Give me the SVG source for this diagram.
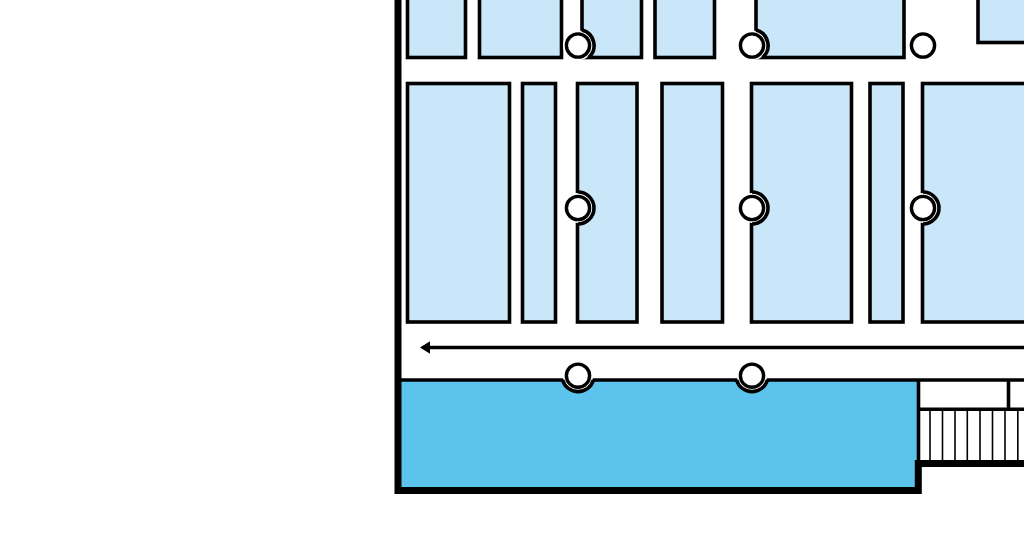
<svg xmlns="http://www.w3.org/2000/svg" width="1024" height="556" viewBox="0 0 1024 556">
<style>
.room{fill:#c9e7f8;stroke:#000;stroke-width:3.6}
.wall{fill:none;stroke:#000;stroke-linecap:butt}
.thick{stroke-width:7}
.mid{stroke-width:3.6}
.thin{stroke-width:1.6}
.disc{fill:#fff}
.col{fill:#fff;stroke:#000;stroke-width:3.4}
</style>
<defs>
<marker id="head" markerUnits="userSpaceOnUse" markerWidth="12" markerHeight="14" refX="1" refY="7" orient="auto"><path d="M11 7L1 .8V13.2Z" fill="#000"/></marker>
</defs>
<rect width="1024" height="556" fill="#fff"/>
<g id="rooms-top">
<rect class="room" x="407.5" y="-10" width="58" height="67.5"/>
<rect class="room" x="479.5" y="-10" width="82" height="67.5"/>
<rect class="room" x="582" y="-10" width="59.5" height="67.5"/>
<rect class="room" x="655" y="-10" width="59.5" height="67.5"/>
<rect class="room" x="756" y="-10" width="148" height="67.5"/>
<rect class="room" x="978" y="-10" width="60" height="52.5"/>
</g>
<g id="rooms-middle">
<rect class="room" x="407.5" y="83.5" width="102" height="238.5"/>
<rect class="room" x="522.5" y="83.5" width="33" height="238.5"/>
<rect class="room" x="577.5" y="83.5" width="59.5" height="238.5"/>
<rect class="room" x="662" y="83.5" width="60.5" height="238.5"/>
<rect class="room" x="751.5" y="83.5" width="100" height="238.5"/>
<rect class="room" x="870" y="83.5" width="33" height="238.5"/>
<rect class="room" x="922.5" y="83.5" width="110" height="238.5"/>
</g>
<g id="pool">
<path d="M401 381H917V460H915V487.5H401Z" fill="#5cc3ed"/>
</g>
<g id="walls">
<path class="wall thick" d="M398 0V490.5H918.3V463.5H1024"/>
<path class="wall mid" d="M400 380H1024M918.5 380V460M1008.5 380V409M918.5 409.3H1024"/>
<path class="wall thin" d="M930 410V460M942.5 410V460M955 410V460M967.3 410V460M980 410V460M992.5 410V460M1005 410V460M1017.8 410V460"/>
</g>
<g id="connectors">
<path class="wall mid" d="M1024 347.5H430" marker-end="url(#head)"/>
</g>
<g id="door-arcs">
<circle class="disc" cx="578" cy="45.5" r="15"/>
<circle class="disc" cx="752" cy="45.5" r="15"/>
<circle class="disc" cx="578" cy="208" r="15"/>
<circle class="disc" cx="752" cy="208" r="15"/>
<circle class="disc" cx="923" cy="208" r="15"/>
<circle class="disc" cx="578" cy="375.7" r="15"/>
<circle class="disc" cx="752" cy="375.7" r="15"/>
<path class="wall mid" d="M582 30A16 16 0 0 1 588.6 57.5M756 30A16 16 0 0 1 762.6 57.5"/>
<path class="wall mid" d="M578 192A16 16 0 0 1 578 224M752 192A16 16 0 0 1 752 224M923 192A16 16 0 0 1 923 224"/>
<path class="wall mid" d="M562.6 380A16 16 0 0 0 593.4 380M736.6 380A16 16 0 0 0 767.4 380"/>
</g>
<g id="columns">
<circle class="col" cx="578" cy="45.5" r="11.6"/>
<circle class="col" cx="752" cy="45.5" r="11.6"/>
<circle class="col" cx="923" cy="45.5" r="11.6"/>
<circle class="col" cx="578" cy="208" r="11.6"/>
<circle class="col" cx="752" cy="208" r="11.6"/>
<circle class="col" cx="923" cy="208" r="11.6"/>
<circle class="col" cx="578" cy="375.7" r="11.6"/>
<circle class="col" cx="752" cy="375.7" r="11.6"/>
</g>
</svg>
